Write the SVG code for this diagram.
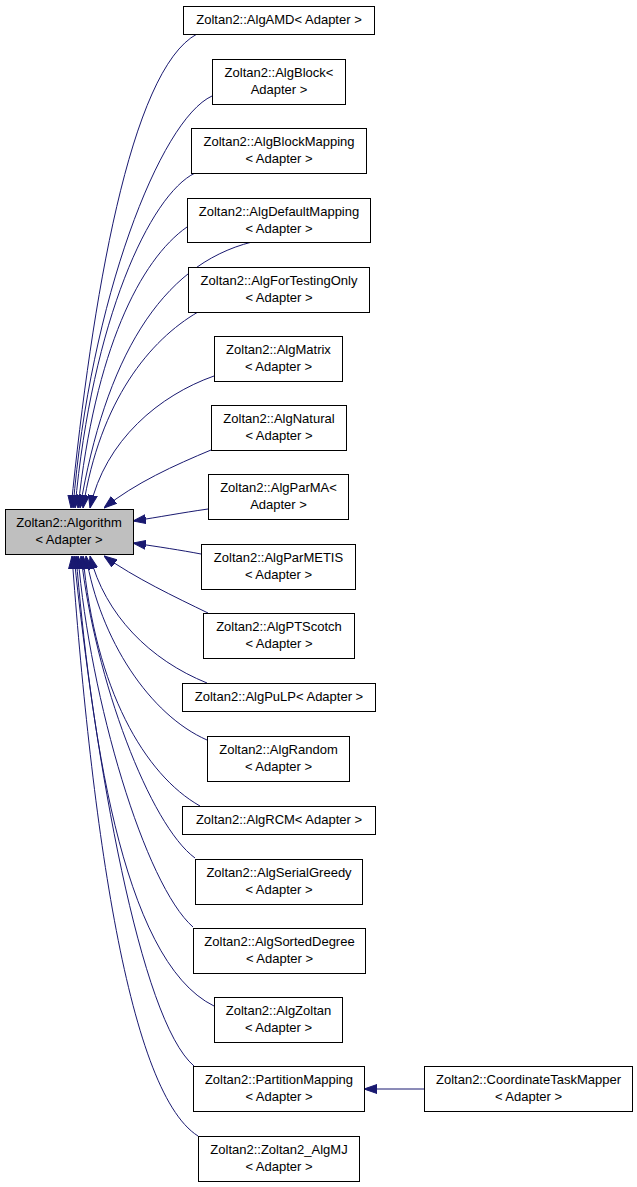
<svg xmlns="http://www.w3.org/2000/svg" width="637" height="1187" viewBox="0 0 637 1187">
<style>
.n rect{fill:#ffffff;stroke:#000000;stroke-width:1}
.n.f rect{fill:#bfbfbf}
.n text{font-family:"Liberation Sans",Arial,sans-serif;font-size:13px;fill:#000000;text-anchor:middle}
#edges path{fill:none;stroke:#191970;stroke-width:1;marker-end:url(#ah)}
</style>
<defs>
<marker id="ah" markerUnits="userSpaceOnUse" markerWidth="13" markerHeight="10" viewBox="0 0 13 10" refX="13" refY="5" orient="auto">
<path d="M0,0.5 L13,5 L0,9.5 z" fill="#191970" stroke="#191970" stroke-width="1"/>
</marker>
</defs>
<rect width="637" height="1187" fill="#ffffff"/>
<g id="edges">
<path d="M197,34 C130,70 92,300 71,508"/>
<path d="M212,96 C160,120 90,300 73,508"/>
<path d="M195,173 C150,195 92,320 75,508"/>
<path d="M187,227 C140,260 95,350 78,508"/>
<path d="M252,242 C160,265 105,360 80,508"/>
<path d="M198,312 C150,340 100,400 83,508"/>
<path d="M214,376 C160,395 105,440 90,508"/>
<path d="M211,450 C175,465 135,483 104,508"/>
<path d="M208,509 C180,513 160,517 133,521"/>
<path d="M201,554 C180,550 160,547 133,543"/>
<path d="M208,613 C175,597 135,578 104,556"/>
<path d="M207,683 C150,660 105,615 90,556"/>
<path d="M207,740 C150,715 100,640 86,556"/>
<path d="M200,806 C145,775 95,690 83,556"/>
<path d="M195,858 C150,825 95,680 81,556"/>
<path d="M193,927 C145,885 90,700 78,556"/>
<path d="M214,1006 C120,960 90,720 76,556"/>
<path d="M194,1066 C140,1020 95,760 74,556"/>
<path d="M198,1136 C125,1090 90,800 72,556"/>
<path d="M424,1089 L364,1089"/>
</g>
<g id="algorithm" class="n f"><rect x="5.5" y="509.5" width="128" height="45"/><text x="69" y="527">Zoltan2::Algorithm</text><text x="69" y="544">&lt; Adapter &gt;</text></g>
<g id="algamd" class="n"><rect x="183.5" y="6.5" width="191" height="28"/><text x="279" y="24">Zoltan2::AlgAMD&lt; Adapter &gt;</text></g>
<g id="algblock" class="n"><rect x="212.5" y="59.5" width="133" height="45"/><text x="279" y="77">Zoltan2::AlgBlock&lt;</text><text x="279" y="94">Adapter &gt;</text></g>
<g id="algblockmapping" class="n"><rect x="191.5" y="128.5" width="175" height="45"/><text x="279" y="146">Zoltan2::AlgBlockMapping</text><text x="279" y="163">&lt; Adapter &gt;</text></g>
<g id="algdefaultmapping" class="n"><rect x="187.5" y="198.5" width="183" height="44"/><text x="279" y="216">Zoltan2::AlgDefaultMapping</text><text x="279" y="233">&lt; Adapter &gt;</text></g>
<g id="algfortestingonly" class="n"><rect x="188.5" y="267.5" width="181" height="45"/><text x="279" y="285">Zoltan2::AlgForTestingOnly</text><text x="279" y="302">&lt; Adapter &gt;</text></g>
<g id="algmatrix" class="n"><rect x="214.5" y="336.5" width="128" height="45"/><text x="278.5" y="354">Zoltan2::AlgMatrix</text><text x="278.5" y="371">&lt; Adapter &gt;</text></g>
<g id="algnatural" class="n"><rect x="211.5" y="405.5" width="135" height="45"/><text x="279" y="423">Zoltan2::AlgNatural</text><text x="279" y="440">&lt; Adapter &gt;</text></g>
<g id="algparma" class="n"><rect x="208.5" y="474.5" width="140" height="45"/><text x="278.5" y="492">Zoltan2::AlgParMA&lt;</text><text x="278.5" y="509">Adapter &gt;</text></g>
<g id="algparmetis" class="n"><rect x="201.5" y="544.5" width="154" height="45"/><text x="278.5" y="562">Zoltan2::AlgParMETIS</text><text x="278.5" y="579">&lt; Adapter &gt;</text></g>
<g id="algptscotch" class="n"><rect x="203.5" y="613.5" width="151" height="45"/><text x="279" y="631">Zoltan2::AlgPTScotch</text><text x="279" y="648">&lt; Adapter &gt;</text></g>
<g id="algpulp" class="n"><rect x="182.5" y="683.5" width="193" height="28"/><text x="279" y="701">Zoltan2::AlgPuLP&lt; Adapter &gt;</text></g>
<g id="algrandom" class="n"><rect x="207.5" y="736.5" width="142" height="45"/><text x="278.5" y="754">Zoltan2::AlgRandom</text><text x="278.5" y="771">&lt; Adapter &gt;</text></g>
<g id="algrcm" class="n"><rect x="182.5" y="806.5" width="193" height="28"/><text x="279" y="824">Zoltan2::AlgRCM&lt; Adapter &gt;</text></g>
<g id="algserialgreedy" class="n"><rect x="195.5" y="859.5" width="167" height="45"/><text x="279" y="877">Zoltan2::AlgSerialGreedy</text><text x="279" y="894">&lt; Adapter &gt;</text></g>
<g id="algsorteddegree" class="n"><rect x="193.5" y="928.5" width="172" height="45"/><text x="279.5" y="946">Zoltan2::AlgSortedDegree</text><text x="279.5" y="963">&lt; Adapter &gt;</text></g>
<g id="algzoltan" class="n"><rect x="214.5" y="997.5" width="128" height="45"/><text x="278.5" y="1015">Zoltan2::AlgZoltan</text><text x="278.5" y="1032">&lt; Adapter &gt;</text></g>
<g id="partitionmapping" class="n"><rect x="193.5" y="1066.5" width="171" height="45"/><text x="279" y="1084">Zoltan2::PartitionMapping</text><text x="279" y="1101">&lt; Adapter &gt;</text></g>
<g id="algmj" class="n"><rect x="198.5" y="1136.5" width="161" height="45"/><text x="279" y="1154">Zoltan2::Zoltan2_AlgMJ</text><text x="279" y="1171">&lt; Adapter &gt;</text></g>
<g id="coordinatetaskmapper" class="n"><rect x="424.5" y="1066.5" width="208" height="45"/><text x="528.5" y="1084">Zoltan2::CoordinateTaskMapper</text><text x="528.5" y="1101">&lt; Adapter &gt;</text></g>
</svg>
